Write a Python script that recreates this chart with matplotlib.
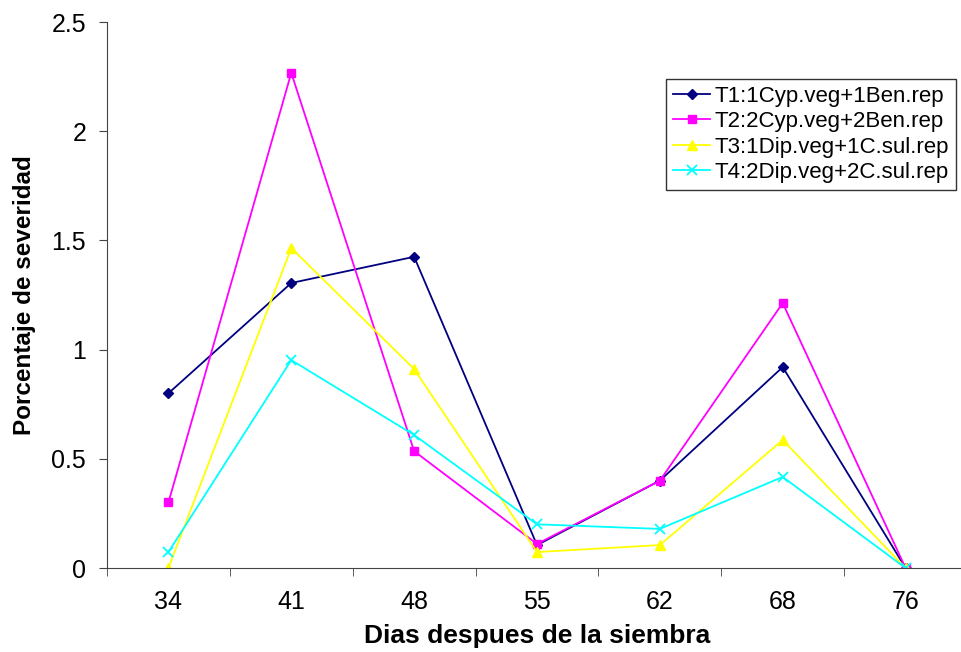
import matplotlib.pyplot as plt
import numpy as np

plt.rcParams['font.family'] = ['Liberation Sans', 'DejaVu Sans']

dias = ["34", "41", "48", "55", "62", "68", "76"]
t1 = [0.80, 1.305, 1.425, 0.105, 0.40, 0.92, 0.0]
t2 = [0.30, 2.267, 0.535, 0.11, 0.40, 1.213, 0.0]
t3 = [0.0, 1.465, 0.911, 0.073, 0.105, 0.586, 0.0]
t4 = [0.073, 0.952, 0.609, 0.20, 0.179, 0.417, 0.0]
nombres = ["T1:1Cyp.veg+1Ben.rep", "T2:2Cyp.veg+2Ben.rep",
           "T3:1Dip.veg+1C.sul.rep", "T4:2Dip.veg+2C.sul.rep"]

fig = plt.figure(figsize=(9.62, 6.52), dpi=100)
ax = fig.add_axes([107 / 962, 1 - 568 / 652, 860 / 962, 546 / 652])

x = np.arange(len(dias))
ax.plot(x, t1, color='#000080', marker='D', markersize=5, lw=1.3, label=nombres[0])
ax.plot(x, t2, color='#FF00FF', marker='s', markersize=6, lw=1.3, label=nombres[1])
ax.plot(x, t3, color='#FFFF00', marker='^', markersize=7, lw=1.3, label=nombres[2])
ax.plot(x, t4, color='#00FFFF', marker='x', markersize=7, mew=1.3, lw=1.3, label=nombres[3])

ax.set_xlim(-0.5, len(dias) - 0.5)
ax.set_ylim(0, 2.5)
ax.set_yticks([0, 0.5, 1, 1.5, 2, 2.5])
ax.set_yticklabels(["0", "0.5", "1", "1.5", "2", "2.5"])
ax.set_xticks(x)
ax.set_xticklabels(dias)
ax.set_xticks(np.arange(-0.5, len(dias), 1), minor=True)
ax.tick_params(axis='x', which='major', length=0, labelsize=18, pad=16)
ax.tick_params(axis='x', which='minor', length=6, direction='out', color='#444444')
ax.tick_params(axis='y', length=6, direction='out', labelsize=18, pad=9, color='#444444')

for s in ['top', 'right']:
    ax.spines[s].set_visible(False)
ax.spines['left'].set_color('#444444')
ax.spines['bottom'].set_color('#444444')

ax.set_xlabel('Dias despues de la siembra', fontsize=19, fontweight='bold', labelpad=7)
ax.set_ylabel('Porcentaje de severidad', fontsize=17.5, fontweight='bold', labelpad=11)

leg = ax.legend(loc='upper left', bbox_to_anchor=(666 / 962, 1 - 79 / 652),
                bbox_transform=fig.transFigure, borderaxespad=0, fontsize=16,
                frameon=True, fancybox=False, handlelength=1.7, handletextpad=0.2,
                labelspacing=0.2, borderpad=0.3)
leg.get_frame().set_edgecolor('black')
leg.get_frame().set_linewidth(1)

plt.savefig('out.png', dpi=100)
